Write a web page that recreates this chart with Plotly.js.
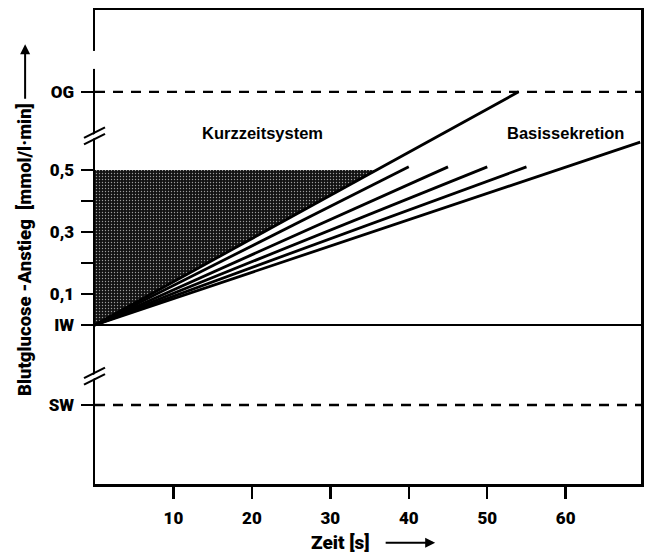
<!DOCTYPE html>
<html>
<head>
<meta charset="utf-8">
<script src="https://cdn.plot.ly/plotly-3.0.1.min.js"></script>
<style>html,body{margin:0;padding:0;background:#fff;}#chart{width:647px;height:553px;}</style>
</head>
<body>
<div id="chart"></div>
<script>
// ---- data ----
const lineNames = ['Kurzzeit 1', 'Kurzzeit 2', 'Kurzzeit 3', 'Kurzzeit 4', 'Kurzzeit 5', 'Basissekretion'];
const timeEnd = [54, 40, 45, 50, 55, 69.5];          // s
const riseEnd = [0.752, 0.51, 0.51, 0.51, 0.51, 0.59]; // mmol/(l·min), axis position
const levelOG = 0.752;   // obere Grenze
const levelIW = 0;       // Istwert
const levelSW = -0.258;  // Sollwert
const shadeTop = 0.5;
const xTicks = [10, 20, 30, 40, 50, 60];
const yTickVals = [levelSW, levelIW, 0.1, 0.2, 0.3, 0.4, 0.5, levelOG];
const yTickText = ['SW', 'IW', '0,1', '', '0,3', '', '0,5', 'OG'];
const xRange = [0, 69.6];
const yRange = [-0.513, 1.016];
const labelTexts = ['Kurzzeitsystem', 'Basissekretion'];
const labelX = [21.4, 60.0];
const labelY = [0.619, 0.619];
const breakVals = [0.61, -0.165];
const gapVals = [0.826, 0.884];

// ---- traces ----
const traces = [];
const cornerX = timeEnd[0] * shadeTop / riseEnd[0];
traces.push({
  x: [0, 0, cornerX, 0], y: [0, shadeTop, shadeTop, 0],
  mode: 'lines', fill: 'toself', line: {width: 0, color: 'rgba(0,0,0,0)'},
  fillcolor: '#161616',
  fillpattern: {shape: '.', bgcolor: '#121212', fgcolor: '#9c9c9c', size: 3, solidity: 0.16},
  hoverinfo: 'skip', showlegend: false
});
[levelOG, levelSW].forEach(v => {
  traces.push({x: [xRange[0], xRange[1]], y: [v, v], mode: 'lines',
    line: {color: '#000', width: 2.4, dash: '10px,8px'}, showlegend: false, hoverinfo: 'skip'});
});
for (let i = 0; i < timeEnd.length; i++) {
  traces.push({x: [0, timeEnd[i]], y: [0, riseEnd[i]], mode: 'lines', name: lineNames[i],
    line: {color: '#000', width: 2.8}, showlegend: false});
}

const tickFont = {family: 'Roboto, Liberation Sans Narrow, sans-serif', size: 17, color: '#000', weight: 900};
const annots = labelTexts.map((t, i) => ({
  x: labelX[i], y: labelY[i], xref: 'x', yref: 'y', text: t, showarrow: false,
  font: {family: 'Liberation Sans, Arial, sans-serif', size: 16.5, color: '#000', weight: 'bold'}
}));
annots.push({xref: 'paper', yref: 'paper', x: -0.128, y: 0.494, text: 'Blutglucose -Anstieg  [mmol/l·min]',
  textangle: -90, showarrow: false, xanchor: 'center', yanchor: 'middle', font: Object.assign({}, tickFont, {size: 18.5})});
annots.push({xref: 'paper', yref: 'paper', x: -0.128, y: 0.928, text: '', showarrow: true,
  ax: 0, ay: 56, arrowhead: 2, arrowsize: 1, arrowwidth: 2, arrowcolor: '#000'});
annots.push({xref: 'paper', yref: 'paper', x: 0.449, y: -0.124, text: 'Zeit [s]', showarrow: false,
  xanchor: 'center', yanchor: 'middle', font: Object.assign({}, tickFont, {size: 19})});
annots.push({xref: 'paper', yref: 'paper', x: 0.623, y: -0.124, text: '', showarrow: true,
  ax: -51, ay: 0, arrowhead: 2, arrowsize: 1, arrowwidth: 2, arrowcolor: '#000'});

const shapes = [];
breakVals.forEach(v => {
  shapes.push({type: 'path', xref: 'paper', yref: 'y', xsizemode: 'pixel', ysizemode: 'pixel', xanchor: 0, yanchor: v,
    path: 'M-4,-4 L4,0 L4,4 L-4,0 Z', fillcolor: '#fff', line: {width: 0}, layer: 'above'});
  shapes.push({type: 'line', xref: 'paper', yref: 'y', xsizemode: 'pixel', ysizemode: 'pixel', xanchor: 0, yanchor: v,
    x0: -11, y0: -8.5, x1: 10, y1: 2, line: {color: '#000', width: 2.2}, layer: 'above'});
  shapes.push({type: 'line', xref: 'paper', yref: 'y', xsizemode: 'pixel', ysizemode: 'pixel', xanchor: 0, yanchor: v,
    x0: -11, y0: -2, x1: 10, y1: 8.5, line: {color: '#000', width: 2.2}, layer: 'above'});
});
shapes.push({type: 'rect', xref: 'paper', yref: 'y', xsizemode: 'pixel', xanchor: 0, x0: -4, x1: 3,
  y0: gapVals[0], y1: gapVals[1], fillcolor: '#fff', line: {width: 0}, layer: 'above'});

const layout = {
  width: 647, height: 553,
  margin: {l: 95, r: 6, t: 10, b: 69},
  paper_bgcolor: '#fff', plot_bgcolor: '#fff',
  showlegend: false,
  xaxis: {range: xRange, tickvals: xTicks, ticktext: xTicks.map(String), ticks: 'outside', ticklen: 12, tickwidth: 2.5,
    tickcolor: '#000', showline: true, linecolor: '#000', linewidth: 2.5, mirror: true, showgrid: false, zeroline: false,
    tickfont: tickFont, ticklabelstandoff: 5, fixedrange: true},
  yaxis: {range: yRange, tickvals: yTickVals, ticktext: yTickText, ticks: 'outside', ticklen: 12, tickwidth: 2.5,
    tickcolor: '#000', showline: true, linecolor: '#000', linewidth: 2.5, mirror: true, showgrid: false,
    zeroline: true, zerolinecolor: '#000', zerolinewidth: 2.4, tickfont: tickFont, ticklabelstandoff: 3, fixedrange: true},
  annotations: annots,
  shapes: shapes
};

Plotly.newPlot('chart', traces, layout, {displayModeBar: false, staticPlot: true});
</script>
</body>
</html>
